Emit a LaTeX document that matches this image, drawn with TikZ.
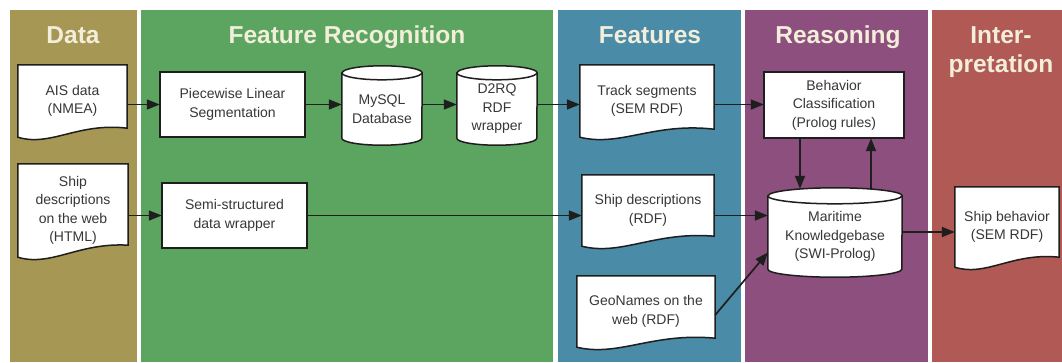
\documentclass[tikz,border=0pt]{standalone}
\usepackage{fontspec}
\setmainfont{Liberation Sans}
\usetikzlibrary{arrows.meta,calc}
\pgfdeclarelayer{panels}
\pgfdeclarelayer{shapes}
\pgfsetlayers{panels,shapes,main}

\definecolor{cData}{RGB}{166,151,85}
\definecolor{cFeatRec}{RGB}{92,165,96}
\definecolor{cFeat}{RGB}{74,139,167}
\definecolor{cReas}{RGB}{141,79,125}
\definecolor{cInt}{RGB}{177,89,84}
\definecolor{cTitle}{RGB}{242,238,218}
\definecolor{cLine}{RGB}{30,30,30}
\definecolor{cText}{RGB}{55,55,55}

\tikzset{
 box/.style={rectangle, inner sep=0pt, align=center, text=cText, font=\fontsize{14}{18.5}\selectfont},
 paneltitle/.style={anchor=base, text=cTitle, font=\fontsize{24.5}{29}\selectfont\bfseries, inner sep=0pt},
 outline/.style={draw=cLine, line width=1.5pt, fill=white, line join=miter},
 flow/.style={draw=cLine, line width=1.7pt, -{Triangle[length=13pt,width=10pt]}},
}

\newcommand\docshape[2]{%
 \draw[outline] (#1.south west) -- (#1.north west) -- (#1.north east) -- ($(#1.south east)+(0,-#2)$)
   .. controls ($(#1.south west)!0.55!(#1.south east)+(0,-15)$) and ($(#1.south west)!0.3!(#1.south east)+(0,10)$) .. (#1.south west) -- cycle;
}
\newcommand\cylshape[3]{%
 \draw[outline] (#1.north west) -- ($(#1.south west)+(0,-#2)$)
   arc[start angle=180, end angle=360, x radius=#3pt, y radius=#2pt]
   -- (#1.north east)
   arc[start angle=0, end angle=180, x radius=#3pt, y radius=#2pt] -- cycle;
 \draw[draw=cLine, line width=1.5pt] (#1.north west)
   arc[start angle=180, end angle=360, x radius=#3pt, y radius=#2pt];
}

\begin{document}
\begin{tikzpicture}[x=1pt,y=-1pt]
\useasboundingbox (0,0) rectangle (1062,362);

\begin{pgfonlayer}{panels}
 \fill[white] (0,0) rectangle (1062,362);
 \fill[cData] (10,10) rectangle (137,362);
 \fill[cFeatRec] (141,10) rectangle (553,362);
 \fill[cFeat] (558,10) rectangle (741,362);
 \fill[cReas] (745,10) rectangle (928,362);
 \fill[cInt] (932,10) rectangle (1062,362);
\end{pgfonlayer}

\node[paneltitle] (tData) at (73,43) {Data};
\node[paneltitle] (tFR) at (347,43) {Feature Recognition};
\node[paneltitle] (tF) at (650,43) {Features};
\node[paneltitle] (tR) at (838,43) {Reasoning};
\node[paneltitle] (tI1) at (1001,43) {Inter-};
\node[paneltitle] (tI2) at (1001,72) {pretation};

\node[box, minimum width=109pt, minimum height=72pt] (ais) at (72.5,101) {AIS data\\(NMEA)};
\node[box, minimum width=110pt, minimum height=93pt] (shipweb) at (73,210.5) {Ship\\descriptions\\on the web\\(HTML)};
\node[box, minimum width=145pt, minimum height=65pt] (pls) at (232.5,104.5) {Piecewise Linear\\Segmentation};
\node[box, minimum width=145pt, minimum height=65pt] (semi) at (234.5,215.5) {Semi-structured\\data wrapper};
\node[box, minimum width=80pt, minimum height=72pt] (mysql) at (382,109) {MySQL\\Database};
\node[box, minimum width=80pt, minimum height=72pt] (d2rq) at (497,109) {D2RQ\\RDF\\wrapper};
\node[box, minimum width=134pt, minimum height=72pt] (track) at (647,101) {Track segments\\(SEM RDF)};
\node[box, minimum width=132pt, minimum height=71pt] (shiprdf) at (648,210.5) {Ship descriptions\\(RDF)};
\node[box, minimum width=138pt, minimum height=71pt] (geo) at (646,311.5) {GeoNames on the\\web (RDF)};
\node[box, minimum width=140pt, minimum height=66pt] (behav) at (834,105) {Behavior\\Classification\\(Prolog rules)};
\node[box, minimum width=134pt, minimum height=81pt] (mkb) at (835,236.5) {Maritime\\Knowledgebase\\(SWI-Prolog)};
\node[box, minimum width=104pt, minimum height=80pt] (shipbeh) at (1007,227) {Ship behavior\\(SEM RDF)};

\begin{pgfonlayer}{shapes}
 \docshape{ais}{9}
 \docshape{shipweb}{12}
 \docshape{track}{8}
 \docshape{shiprdf}{10}
 \docshape{geo}{9}
 \docshape{shipbeh}{10}
 \draw[outline] (pls.south west) rectangle (pls.north east);
 \draw[outline] (semi.south west) rectangle (semi.north east);
 \draw[outline] (behav.south west) rectangle (behav.north east);
 \cylshape{mysql}{7}{40}
 \cylshape{d2rq}{7}{40}
 \cylshape{mkb}{8}{67}
\end{pgfonlayer}

\draw[flow] (ais.east |- pls.west) -- (pls.west);
\draw[flow] (pls.east) -- (pls.east -| mysql.west);
\draw[flow] (mysql.east |- pls.east) -- (d2rq.west |- pls.east);
\draw[flow] (d2rq.east |- pls.east) -- (track.west |- pls.east);
\draw[flow] (track.east |- pls.east) -- (behav.west |- pls.east);
\draw[flow] (shipweb.east |- semi.west) -- (semi.west);
\draw[flow] (semi.east) -- (shiprdf.west |- semi.east);
\draw[flow] (shiprdf.east |- semi.east) -- (mkb.west |- semi.east);
\draw[flow] ([yshift=-3.5pt]geo.east) -- ([yshift=-16pt]mkb.west);
\draw[flow] ([yshift=4.5pt]mkb.east) -- ([yshift=4.5pt]mkb.east -| shipbeh.west);
\draw[flow] ([xshift=-34pt]behav.south) -- ([xshift=-35pt,yshift=7pt]mkb.north);
\draw[flow] ([xshift=36pt,yshift=7pt]mkb.north) -- ([xshift=37pt]behav.south);
\end{tikzpicture}
\end{document}
